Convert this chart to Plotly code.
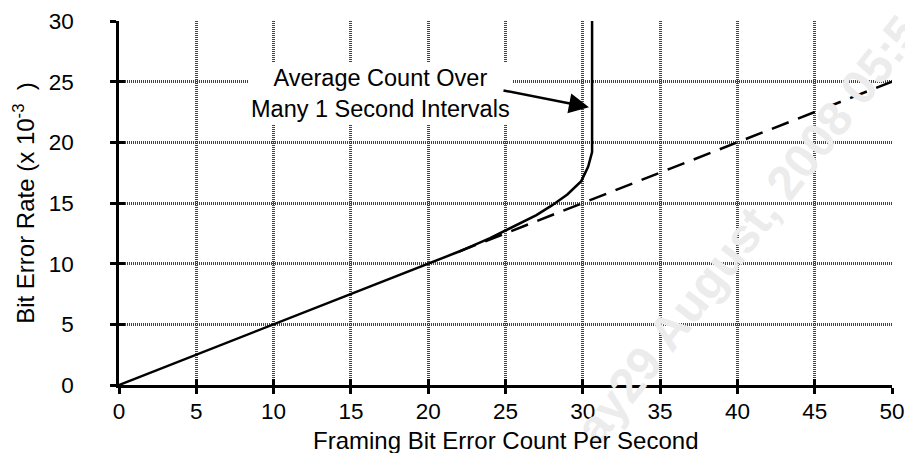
import plotly.graph_objects as go

# valores
x_medio = [0, 20, 22, 24, 25, 26, 27, 28, 29, 29.9, 30.35, 30.6, 30.6]
y_medio = [0, 10, 11, 12.1, 12.75, 13.35, 14.0, 14.8, 15.7, 16.8, 18.0, 19.2, 30]

x_teorico = [22, 50]
y_teorico = [11, 25]

x_ticks = [0, 5, 10, 15, 20, 25, 30, 35, 40, 45, 50]
y_ticks = [0, 5, 10, 15, 20, 25, 30]

familia = "Liberation Sans, Arial, sans-serif"
fonte_ticks = dict(family=familia, size=22.5, color="black")
fonte_titulo = dict(family=familia, size=24, color="black")
fonte_nota = dict(family=familia, size=23.5, color="black")

fig = go.Figure()

# linha tracejada (1 para 1)
fig.add_trace(go.Scatter(
    x=x_teorico, y=y_teorico, mode='lines',
    line=dict(color='black', width=2.5, dash='18px,10px'),
    showlegend=False
))

# média de várias janelas de 1 segundo
fig.add_trace(go.Scatter(
    x=x_medio, y=y_medio, mode='lines',
    line=dict(color='black', width=2.5),
    showlegend=False
))

eixo_comum = dict(
    showline=True, linecolor='black', linewidth=2.5,
    ticks='outside', ticklen=6, tickwidth=2.5, tickcolor='black',
    showgrid=True, gridcolor='#444444', gridwidth=3, griddash='1px,1px',
    zeroline=False, tickfont=fonte_ticks, mirror=False, automargin=False
)

# a página tem 8px de margem no body, por isso a figura é 905x445
fig.update_layout(
    width=905, height=445,
    margin=dict(l=111, r=21, t=13, b=68),
    paper_bgcolor='white', plot_bgcolor='white',
    font=fonte_ticks,
    xaxis=dict(
        eixo_comum, range=[0, 50], tickvals=x_ticks,
        ticklabelstandoff=-2,
    ),
    yaxis=dict(
        eixo_comum, range=[0, 30], tickvals=y_ticks,
        ticklabelstandoff=32,
        title=dict(text='Bit Error Rate (x 10<sup>-3</sup>  )', font=fonte_titulo, standoff=8)
    ),
    # eixos extras só para os traços de tick para dentro
    xaxis2=dict(overlaying='x', matches='x', range=[0, 50], tickvals=x_ticks,
                ticks='inside', ticklen=6, tickwidth=2.5, tickcolor='black',
                showticklabels=False, showgrid=False, zeroline=False, side='bottom'),
    yaxis2=dict(overlaying='y', matches='y', range=[0, 30], tickvals=y_ticks,
                ticks='inside', ticklen=6, tickwidth=2.5, tickcolor='black',
                showticklabels=False, showgrid=False, zeroline=False, side='left'),
)

# traço invisível para ativar os eixos extras
fig.add_trace(go.Scatter(x=[0], y=[0], xaxis='x2', yaxis='y2', mode='markers',
                         marker=dict(opacity=0), showlegend=False, hoverinfo='skip'))

# marca d'água
fig.add_annotation(
    x=0.814, y=0.426, xref='paper', yref='paper', text='ay29 August, 2008 05:5',
    showarrow=False, textangle=-52, xanchor='center', yanchor='middle',
    font=dict(family=familia, size=48, color='#ececec', weight='bold')
)

# título do eixo x como anotação, para ficar por cima da marca d'água
fig.add_annotation(
    x=0.5, y=0, xref='paper', yref='paper', text='Framing Bit Error Count Per Second',
    showarrow=False, xanchor='center', yanchor='middle', yshift=-55,
    font=fonte_titulo
)

# texto da anotação com fundo branco cobrindo a grade
fig.add_annotation(
    x=16.9, y=24.0, xref='x', yref='y',
    text='Average Count Over<br>Many 1 Second Intervals',
    showarrow=False, font=fonte_nota, bgcolor='white', borderpad=2
)

# seta
fig.add_annotation(
    x=30.4, y=22.9, xref='x', yref='y', text='',
    showarrow=True, ax=-87, ay=-17,
    arrowhead=2, arrowsize=1.6, arrowwidth=2.5, arrowcolor='black'
)

fig.write_html("out.html")
